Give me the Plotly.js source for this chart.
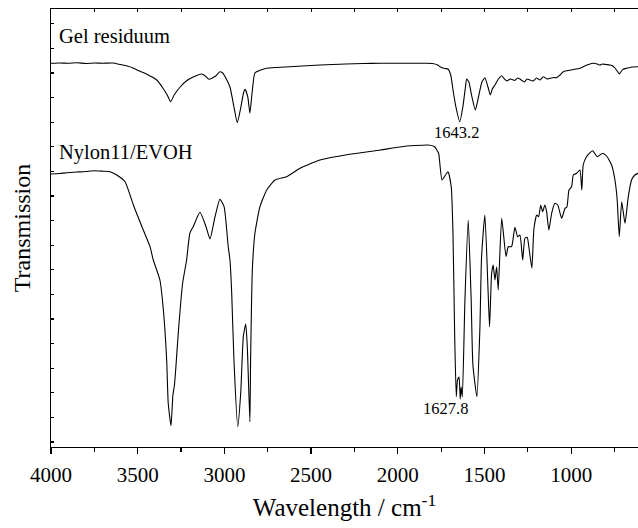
<!DOCTYPE html>
<html>
<head>
<meta charset="utf-8">
<script src="https://cdn.plot.ly/plotly-3.0.1.min.js"></script>
<style>html,body{margin:0;padding:0;background:#fff;}#chart{width:638px;height:528px;}</style>
</head>
<body>
<div id="chart"></div>
<script>
// Wavenumbers (cm^-1) and transmission (arbitrary units) for each spectrum
const gelWn = [4000,3950,3900,3850,3800,3750,3700,3642,3600,3560,3527,3490,3450,3390,3355,3330,3310,3290,3255,3220,3180,3131,3110,3089,3050,3026,3010,2995,2968,2945,2926,2905,2890,2881,2865,2853,2840,2824,2790,2756,2700,2600,2500,2449,2300,2200,2100,2000,1900,1850,1800,1770,1757,1730,1711,1695,1680,1665,1643,1625,1610,1603,1590,1575,1553,1535,1515,1498,1480,1467,1455,1440,1420,1401,1385,1372,1350,1325,1310,1296,1270,1255,1238,1220,1200,1180,1161,1140,1123,1100,1084,1065,1046,1000,950,931,900,873,850,834,820,800,777,760,748,735,723,710,700,681,650,623,615];
const gelT  = [383.7,384,383.7,384.2,383.5,384,383.8,384,382.5,381,379,376,373,367,359,352,345.3,352,360,366,370,373,371,367.7,371,375.3,374,370,360,340,324.3,340,354,357.7,350,333.7,355,374,377,378.7,379.5,380.5,381.5,382,383,383.5,383.7,383.7,383.8,383.7,383.5,382,380.3,378.5,378,372,355,340,325.3,340,360,368,365,352,337,350,365,369.3,360,352,358,362,368,371.3,368,366,368,366.5,369,368,365,368,367,366,369,367,370.3,368,368.7,369.5,369.3,372,375.3,377,378.7,380.3,382.5,383.7,383,382,383,382.5,382,381,379,376,373,376,377.7,378.7,380,380.3,380.3];

const nylWn = [4000,3950,3909,3850,3800,3756,3700,3660,3621,3573,3525,3468,3429,3410,3372,3352,3333,3324,3308,3297,3288,3281,3266,3241,3218,3199,3180,3141,3106,3083,3054,3026,3002,2978,2968,2958,2945,2923,2906,2891,2877,2868,2853,2849,2839,2824,2795,2756,2708,2641,2564,2449,2268,2100,1980,1826,1788,1765,1745,1711,1692,1682,1672,1663,1656,1647,1640,1635,1628,1613,1594,1577,1567,1544,1527,1517,1498,1479,1471,1459,1450,1440,1430,1421,1401,1376,1363,1344,1325,1309,1296,1280,1267,1254,1242,1227,1215,1199,1188,1176,1165,1152,1142,1129,1113,1094,1078,1055,1036,1025,1013,998,988,969,950,939,931,912,877,850,819,796,767,748,735,723,709,690,671,652,633,615];
const nylT  = [273,273.5,274.3,275,275.5,276.3,275.8,275.3,272,265.3,242,217,200.3,187,167,137,87,43.7,21.3,52,62,77,114,163.7,187,214,220.3,234.7,220.3,208,230.3,247.7,240.3,200.3,187,154,87,20.3,54,110.3,123,100.3,25.3,87,177,213.7,240.3,257,267,270.3,278.7,287,293,297,300.3,302,300.3,293.7,267,275.3,260.3,214,110.3,50.3,67,70,48,60,50,147,227,147,82,50.3,117,190.3,232,153.7,120.3,173.7,182,167,180.3,157,228.7,190.3,200.3,200.3,219.7,210.3,212,187,208.7,209.7,197,178.7,218.7,232,230.3,242,235.3,242,235.3,217,233.7,243.7,242,228.7,238.7,240,257,260.3,272,273.7,277,257,282,290.3,296.3,290.3,293.7,291,282,267,247,210.3,245.3,223.7,250.3,267,272,273.7];

const labels = [
  {text:'Gel residuum', x:3965, y:411, anchor:'left', size:20.5},
  {text:'Nylon11/EVOH', x:3965, y:295, anchor:'left', size:20.5},
  {text:'1643.2', x:1659, y:314.5, anchor:'center', size:16.5},
  {text:'1627.8', x:1724, y:38.7, anchor:'center', size:16.5}
];

const font = '"Liberation Serif", "Times New Roman", Times, "DejaVu Serif", serif';
const lineStyle = {color:'#000', width:1.1, shape:'spline', smoothing:0.5};
const traces = [
  {x:gelWn, y:gelT, type:'scatter', mode:'lines', line:lineStyle, hoverinfo:'skip'},
  {x:nylWn, y:nylT, type:'scatter', mode:'lines', line:lineStyle, hoverinfo:'skip'},
  {x:gelWn, y:gelT, type:'scatter', mode:'lines', xaxis:'x2', line:{color:'rgba(0,0,0,0)', width:0}, hoverinfo:'skip'}
];

const layout = {
  width:638, height:528,
  margin:{l:51, r:0, t:9, b:81},
  paper_bgcolor:'#fff', plot_bgcolor:'#fff',
  showlegend:false,
  font:{family:font, color:'#000'},
  xaxis:{
    range:[4000,615], tickmode:'linear', tick0:0, dtick:500,
    ticks:'outside', ticklen:6, tickwidth:1.3, tickcolor:'#000', ticklabelstandoff:2,
    minor:{tickmode:'linear', tick0:0, dtick:250, ticks:'outside', ticklen:4, tickwidth:1.2, tickcolor:'#000', showgrid:false},
    showline:true, linecolor:'#000', linewidth:1.3, showgrid:false, zeroline:false,
    tickfont:{size:21, family:font, color:'#000'},
    title:{text:'Wavelength / cm<sup>-1</sup>', font:{size:25, family:font, color:'#000'}, standoff:13}
  },
  xaxis2:{
    overlaying:'x', side:'top', anchor:'y', matches:'x', range:[4000,615],
    tickmode:'linear', tick0:0, dtick:250, ticks:'inside', ticklen:3, tickwidth:1.1, tickcolor:'#000',
    showticklabels:false, showline:true, linecolor:'#000', linewidth:1.3, showgrid:false, zeroline:false
  },
  yaxis:{
    range:[0,438], tickmode:'linear', tick0:5, dtick:24.6,
    ticks:'inside', ticklen:3, tickwidth:1.1, tickcolor:'#000',
    showticklabels:false, showline:true, linecolor:'#000', linewidth:1.3, showgrid:false, zeroline:false,
    title:{text:'Transmission', font:{size:24, family:font, color:'#000'}, standoff:12}
  },
  annotations: labels.map(l => ({
    text:l.text, x:l.x, y:l.y, xref:'x', yref:'y', showarrow:false,
    xanchor:l.anchor, yanchor:'middle', font:{size:l.size, family:font, color:'#000'}
  }))
};

Plotly.newPlot('chart', traces, layout, {staticPlot:true, displayModeBar:false});
</script>
</body>
</html>
